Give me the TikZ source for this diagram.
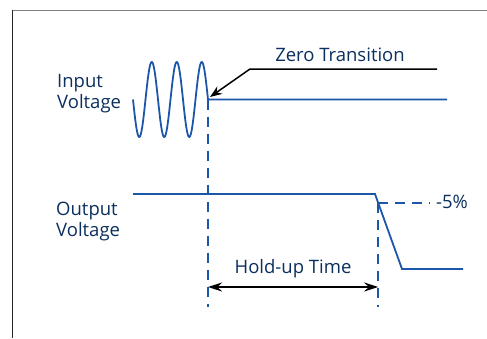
\documentclass[tikz,border=0pt]{standalone}
\usepackage{fontspec}
\setmainfont{Open Sans}
\usetikzlibrary{arrows.meta, calc}
\definecolor{waveblue}{HTML}{1C56A8}
\definecolor{labelnavy}{HTML}{0B2F5E}

\begin{document}
\begin{tikzpicture}[x=1pt, y=-1pt, >=Stealth,
    wave/.style={waveblue, line width=1.8pt},
    guide/.style={waveblue, line width=1.5pt, dash pattern=on 10pt off 7pt},
    pointer/.style={black, line width=1.5pt},
    lbl/.style={labelnavy, font=\fontsize{18.5}{21}\selectfont, inner sep=0pt}]
    \useasboundingbox (0,0) rectangle (487,338);
    \draw[gray, line width=1pt] (12,10) -- (487,10);
    \draw[black!85, line width=1pt] (12,10) -- (12,338);
    % input side
    \node[lbl, anchor=base west, align=left] (inLabel) at (57,108) {Input\\Voltage};
    \coordinate (zeroPt) at (208,99.5);
    \coordinate (inEnd) at (447,99.5);
    \draw[wave] plot[domain=133:208, samples=160, smooth] (\x, {99.5+37.5*sin(14.4*(\x-133))}) -- (inEnd);
    % output side
    \node[lbl, anchor=base west, align=left] (outLabel) at (56,236) {Output\\Voltage};
    \coordinate (outStart) at (133,194);
    \coordinate (dropStart) at (375,194);
    \coordinate (dropEnd) at (402,269);
    \coordinate (outEnd) at (463,269);
    \draw[wave] (outStart) -- (dropStart) -- (dropEnd) -- (outEnd);
    \coordinate (fivePt) at ($(dropStart)!0.12!(dropEnd)$);
    % guides
    \coordinate (zeroBot) at (208,307);
    \coordinate (holdBot) at (fivePt |- zeroBot);
    \draw[guide] (zeroPt) -- (zeroBot);
    \draw[guide] (fivePt) -- (holdBot);
    \node[lbl, anchor=base west] (fiveLabel) at (436,208) {-5\%};
    \draw[guide] (fivePt) -- (fivePt -| 430,0);
    % annotations
    \node[lbl] (zeroLabel) at (340,55) {Zero Transition};
    \coordinate (zeroKnee) at (250,69);
    \draw[pointer, -{Stealth[length=12pt, width=9pt]}] (437,69) -- (zeroKnee) -- (210,97);
    \node[lbl] (holdLabel) at (293,269) {Hold-up Time};
    \draw[pointer, {Stealth[length=14pt, width=9pt]}-{Stealth[length=14pt, width=9pt]}]
        (zeroPt |- 0,287) -- (fivePt |- 0,287);
\end{tikzpicture}
\end{document}
